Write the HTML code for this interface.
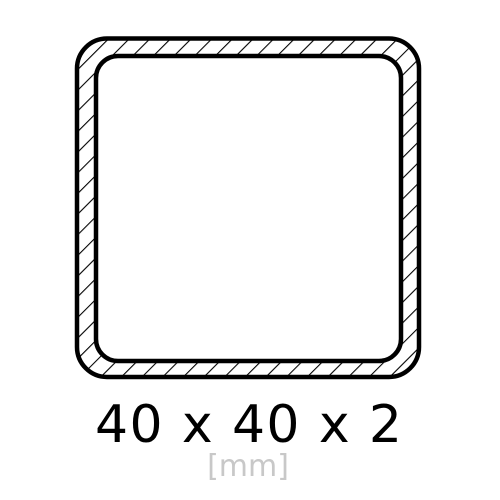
<!DOCTYPE html>
<html><head><meta charset="utf-8"><style>html,body{margin:0;padding:0;background:#fff}svg{display:block}</style></head>
<body>
<svg width="500" height="500" viewBox="0 0 500 500">
<defs>
<pattern id="hatch" width="14.6" height="14.6" patternUnits="userSpaceOnUse" patternTransform="rotate(45)">
<line x1="2" y1="0" x2="2" y2="14.6" stroke="#000" stroke-width="1.1"/>
</pattern>
</defs>
<path fill="url(#hatch)" fill-rule="evenodd"
 d="M107,38.5 H389 A30,30 0 0 1 419,68.5 V347 A30,30 0 0 1 389,377 H107 A30,30 0 0 1 77,347 V68.5 A30,30 0 0 1 107,38.5 Z
    M118,56 H379 A22,22 0 0 1 401,78 V339 A22,22 0 0 1 379,361 H118 A22,22 0 0 1 96,339 V78 A22,22 0 0 1 118,56 Z"/>
<rect x="77" y="38.5" width="342" height="338.5" rx="30" ry="30" fill="none" stroke="#000" stroke-width="4.5"/>
<rect x="96" y="56" width="305" height="305" rx="22" ry="22" fill="#fff" stroke="#000" stroke-width="4.5"/>
<text x="248.5" y="442" text-anchor="middle" font-family="DejaVu Sans, sans-serif" font-size="52" textLength="307" lengthAdjust="spacing" fill="#000">40 x 40 x 2</text>
<text x="248" y="476" text-anchor="middle" font-family="DejaVu Sans, sans-serif" font-size="30" fill="#c8c8c8">[mm]</text>
</svg>
</body></html>
